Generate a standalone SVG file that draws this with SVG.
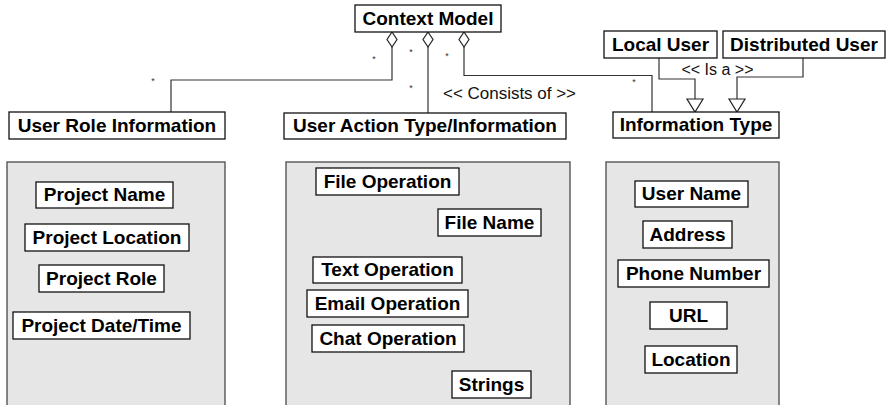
<svg xmlns="http://www.w3.org/2000/svg" width="887" height="405" viewBox="0 0 887 405">
<style>
.box{fill:#fff;stroke:#111;stroke-width:1.3}
.panel{fill:#e6e6e6;stroke:#555;stroke-width:1.4}
.lbl{font-family:"Liberation Sans",Arial,sans-serif;font-weight:bold;font-size:19px;fill:#000;text-anchor:middle}
.note{font-family:"Liberation Sans",Arial,sans-serif;font-size:16px;fill:#111;text-anchor:middle}
.star{font-family:"Liberation Sans",Arial,sans-serif;font-size:9px;fill:#333;text-anchor:middle}
.ln{fill:none;stroke:#333;stroke-width:1.2}
.dia{fill:#fff;stroke:#222;stroke-width:1.2}
.tri{fill:#fff;stroke:#222;stroke-width:1.2}
</style>
<rect width="887" height="405" fill="#fff"/>

<g id="panels">
<rect class="panel" x="7" y="162" width="218" height="250"/>
<rect class="panel" x="286" y="162" width="284" height="250"/>
<rect class="panel" x="606" y="162" width="173" height="250"/>
</g>

<g id="connectors">
<polyline class="ln" points="392,47 392,80 171,80 171,112"/>
<polyline class="ln" points="428,47 428,113"/>
<polyline class="ln" points="464,47 464,75.5 652,75.5 652,112"/>
<polyline class="ln" points="659,58 659,79 695,79 695,99"/>
<polyline class="ln" points="803,58 803,77 737,77 737,99"/>
<polygon class="dia" points="392,32 397,39.5 392,47 387,39.5"/>
<polygon class="dia" points="428,32 433,39.5 428,47 423,39.5"/>
<polygon class="dia" points="464,32 469,39.5 464,47 459,39.5"/>
<polygon class="tri" points="687,99 703,99 695,112"/>
<polygon class="tri" points="729,99 745,99 737,112"/>
<text class="note" x="509.5" y="99" textLength="133" lengthAdjust="spacingAndGlyphs">&lt;&lt; Consists of &gt;&gt;</text>
<text class="note" x="717.5" y="75">&lt;&lt; Is a &gt;&gt;</text>
<text class="star" x="153" y="84">*</text>
<text class="star" x="374" y="62">*</text>
<text class="star" x="411" y="55">*</text>
<text class="star" x="447" y="59">*</text>
<text class="star" x="411" y="91">*</text>
<text class="star" x="634" y="85">*</text>
</g>

<g id="context-model"><rect class="box" x="355" y="5" width="146" height="27"/><text class="lbl" x="428" y="25">Context Model</text></g>
<g id="local-user"><rect class="box" x="604" y="31" width="113" height="27"/><text class="lbl" x="660.5" y="51">Local User</text></g>
<g id="distributed-user"><rect class="box" x="723" y="31" width="162" height="27"/><text class="lbl" x="804" y="51">Distributed User</text></g>
<g id="user-role-information"><rect class="box" x="9" y="112" width="216" height="27"/><text class="lbl" x="117" y="132">User Role Information</text></g>
<g id="user-action-type"><rect class="box" x="284" y="113" width="282" height="26"/><text class="lbl" x="425" y="132">User Action Type/Information</text></g>
<g id="information-type"><rect class="box" x="613" y="112" width="166" height="26"/><text class="lbl" x="696" y="131">Information Type</text></g>

<g id="project-name"><rect class="box" x="36" y="182" width="137" height="26"/><text class="lbl" x="104.5" y="201">Project Name</text></g>
<g id="project-location"><rect class="box" x="25" y="224" width="164" height="27"/><text class="lbl" x="107" y="244">Project Location</text></g>
<g id="project-role"><rect class="box" x="39" y="265" width="125" height="27"/><text class="lbl" x="101.5" y="285">Project Role</text></g>
<g id="project-date-time"><rect class="box" x="13" y="312" width="177" height="27"/><text class="lbl" x="101.5" y="332">Project Date/Time</text></g>

<g id="file-operation"><rect class="box" x="316" y="168" width="143" height="27"/><text class="lbl" x="387.5" y="188">File Operation</text></g>
<g id="file-name"><rect class="box" x="438" y="209" width="103" height="27"/><text class="lbl" x="489.5" y="229">File Name</text></g>
<g id="text-operation"><rect class="box" x="313" y="257" width="149" height="26"/><text class="lbl" x="387.5" y="276">Text Operation</text></g>
<g id="email-operation"><rect class="box" x="307" y="290" width="161" height="27"/><text class="lbl" x="387.5" y="310">Email Operation</text></g>
<g id="chat-operation"><rect class="box" x="312" y="325" width="152" height="27"/><text class="lbl" x="388" y="345">Chat Operation</text></g>
<g id="strings"><rect class="box" x="452" y="371" width="79" height="27"/><text class="lbl" x="491.5" y="391">Strings</text></g>

<g id="user-name"><rect class="box" x="635" y="181" width="113" height="26"/><text class="lbl" x="691.5" y="200">User Name</text></g>
<g id="address"><rect class="box" x="643" y="221" width="89" height="27"/><text class="lbl" x="687.5" y="241">Address</text></g>
<g id="phone-number"><rect class="box" x="618" y="260" width="151" height="27"/><text class="lbl" x="693.5" y="280">Phone Number</text></g>
<g id="url"><rect class="box" x="650" y="302" width="77" height="27"/><text class="lbl" x="688.5" y="322">URL</text></g>
<g id="location"><rect class="box" x="645" y="346" width="92" height="27"/><text class="lbl" x="691" y="366">Location</text></g>
</svg>
